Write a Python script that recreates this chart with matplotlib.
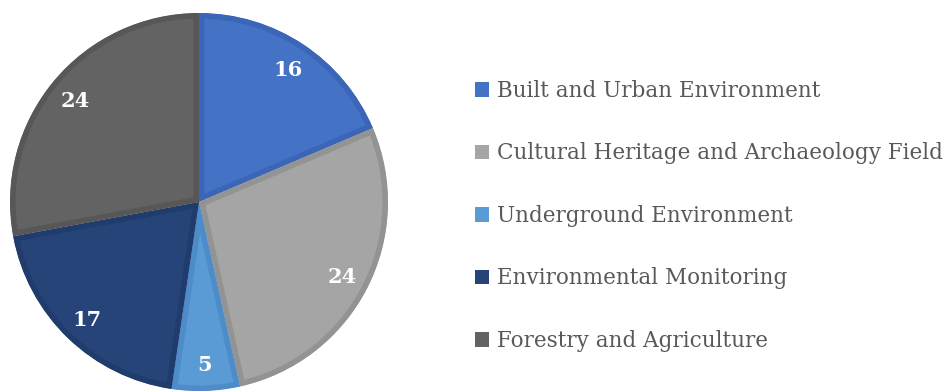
import matplotlib.pyplot as plt
from matplotlib.patches import Patch

# Publications per application field
fields = [
    "Built and Urban Environment",
    "Cultural Heritage and Archaeology Field",
    "Underground Environment",
    "Environmental Monitoring",
    "Forestry and Agriculture",
]
counts = [16, 24, 5, 17, 24]
fill_colors = ["#4472C4", "#A5A5A5", "#5B9BD5", "#264478", "#636363"]
edge_colors = ["#3B66B8", "#939393", "#4D8CC8", "#203C6D", "#575757"]

W, H = 948, 391
fig = plt.figure(figsize=(W / 100, H / 100), dpi=100)

# pie axes: centre at (199, 202) px from top-left, radius 189 px
R = 189
cx, cy = 199, H - 202
ax = fig.add_axes([(cx - R) / W, (cy - R) / H, 2 * R / W, 2 * R / H])

total = sum(counts)
wedges, texts, autotexts = ax.pie(
    counts,
    colors=fill_colors,
    startangle=90,
    counterclock=False,
    radius=1,
    autopct=lambda p: f"{round(p * total / 100)}",
    pctdistance=0.85,
    textprops=dict(color="white", fontsize=15, fontweight="bold",
                   family="DejaVu Serif"),
)
for t in autotexts:
    t.set_va("center_baseline")

# darker band just inside each slice outline (stroke clipped to the slice)
for w, ec in zip(wedges, edge_colors):
    w.set_edgecolor(ec)
    w.set_linewidth(8)
    w.set_clip_on(True)
    w.set_clip_path(w)

ax.set_xlim(-1, 1)
ax.set_ylim(-1, 1)
ax.set_aspect("equal")
ax.axis("off")

handles = [Patch(facecolor=c, edgecolor="none") for c in fill_colors]
fig.legend(
    handles, fields,
    loc="upper left",
    bbox_to_anchor=(475 / W, 1 - 80 / H),
    frameon=False,
    prop=dict(family="DejaVu Serif", size=15.5),
    labelcolor="#595959",
    handlelength=0.65,
    handleheight=0.65,
    handletextpad=0.37,
    labelspacing=1.88,
    borderaxespad=0,
    borderpad=0,
)

fig.savefig("out.png", dpi=100)
